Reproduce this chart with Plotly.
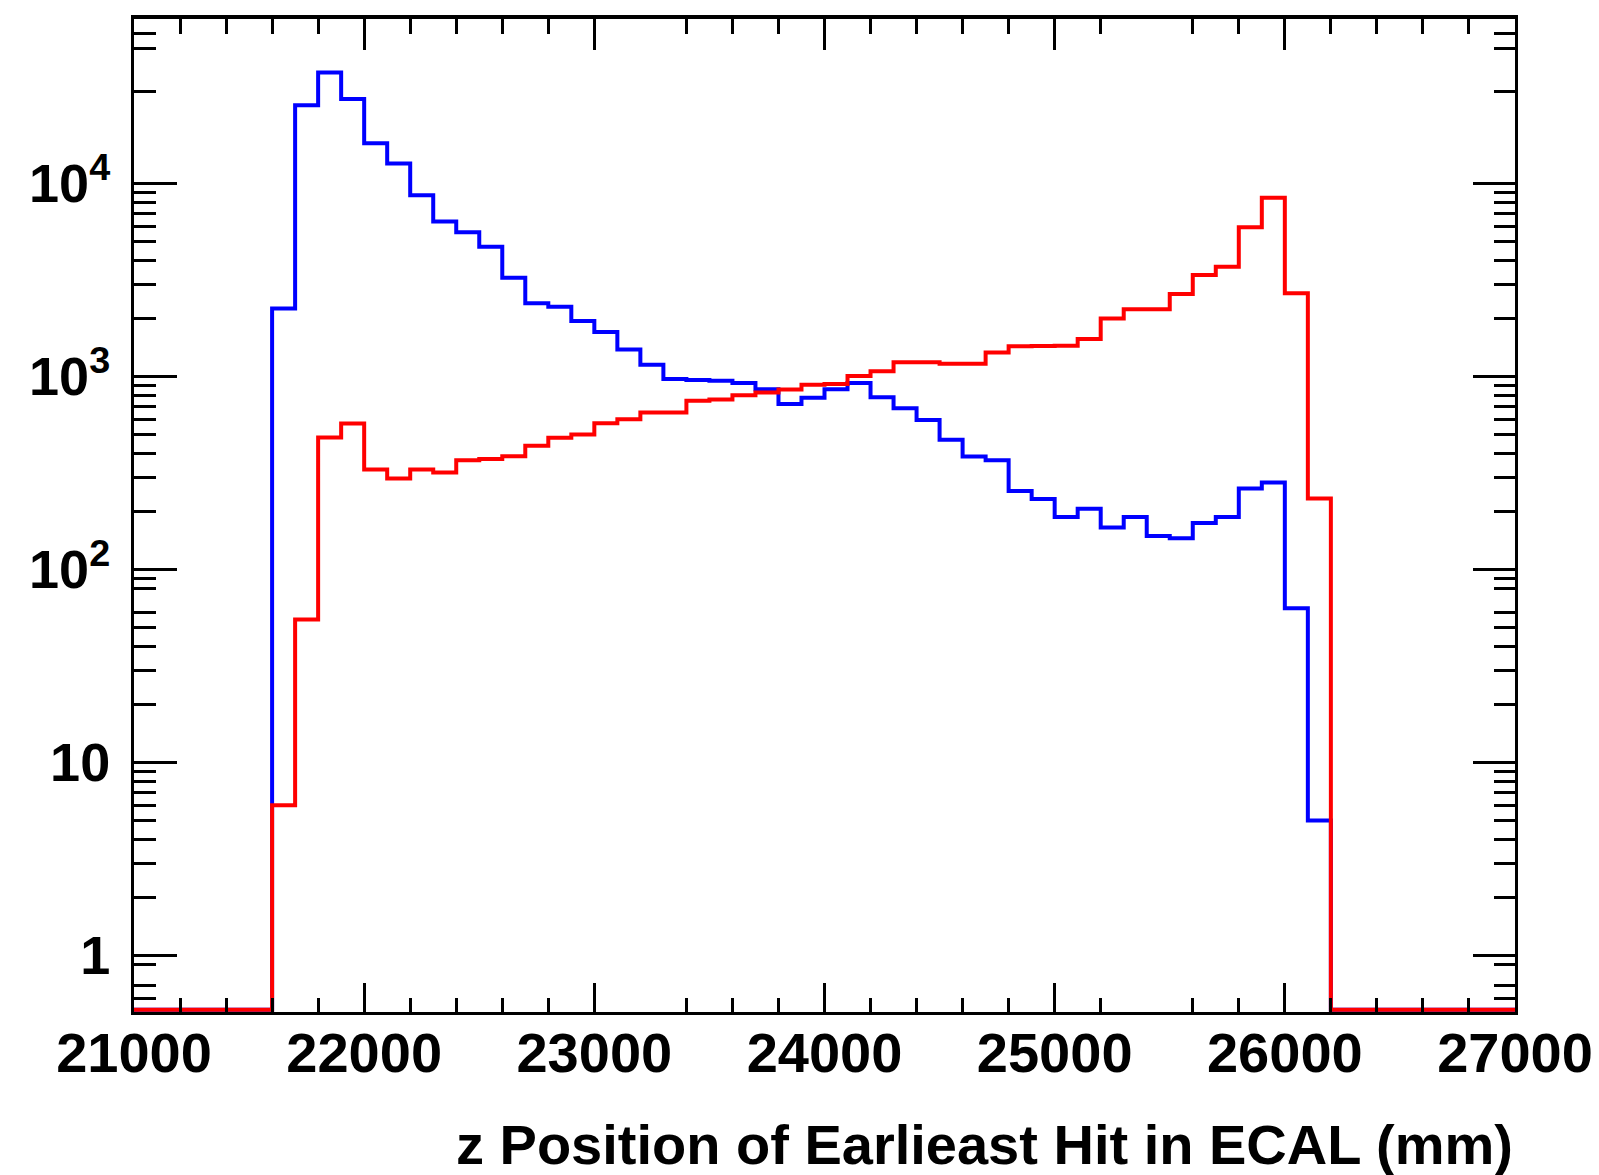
import numpy as np
import plotly.graph_objects as go

# ---------------- data ----------------
# 100 mm bins from 21000 to 27000 mm
bin_edges = np.arange(21000, 27001, 100)

# counts per bin (60 bins)
blue_counts = [0, 0, 0, 0, 0, 0,
               2250, 25500, 37700, 27400, 16200, 12700, 8700, 6350, 5600, 4700,
               3250, 2400, 2300, 1940, 1700, 1380, 1150, 970, 958, 950,
               925, 860, 720, 775, 860, 925, 780, 685, 595, 470,
               385, 368, 255, 232, 187, 206, 165, 187, 149, 145,
               174, 187, 263, 282, 63, 5,
               0, 0, 0, 0, 0, 0, 0, 0]
red_counts = [0, 0, 0, 0, 0, 0,
              6, 55, 483, 571, 330, 296, 330, 318, 368, 374,
              386, 437, 481, 501, 573, 601, 651, 651, 748, 760,
              800, 827, 857, 905, 915, 1005, 1066, 1187, 1187, 1163,
              1163, 1333, 1435, 1440, 1445, 1565, 2000, 2229, 2229, 2674,
              3356, 3707, 5930, 8440, 2697, 233,
              0, 0, 0, 0, 0, 0, 0, 0]

x_major = [21000, 22000, 23000, 24000, 25000, 26000, 27000]
x_major_text = ["21000", "22000", "23000", "24000", "25000", "26000", "27000"]
x_minor = [21200, 21400, 21600, 21800, 22200, 22400, 22600, 22800,
           23400, 23600, 23800, 24200, 24400, 24600, 24800,
           25200, 25600, 25800, 26200, 26400, 26600, 26800]
y_major = [1, 10, 100, 1000, 10000]
y_major_text = ["1", "10", "10<sup>2</sup>", "10<sup>3</sup>", "10<sup>4</sup>"]
y_minor = [0.6, 0.7, 0.9,
           2, 3, 4, 5, 6, 7, 8, 9,
           20, 30, 40, 50, 60, 80, 90,
           200, 300, 400, 500, 600, 700, 800, 900,
           2000, 3000, 4000, 5000, 6000, 7000, 8000, 9000,
           30000, 50000, 60000]

x_title = "z Position of Earlieast Hit in ECAL (mm)"

# ---------------- figure ----------------
y_log_range = [-0.294, 4.853]
floor_val = 10 ** (y_log_range[0] + 0.012)


def step_y(counts):
    c = np.asarray(counts, dtype=float)
    c = np.where(c > 0, c, floor_val)
    return np.append(c, c[-1])


FONT = "Liberation Sans"
LW = 4

fig = go.Figure()
fig.add_trace(go.Scatter(x=bin_edges, y=step_y(blue_counts), mode="lines",
                         line=dict(color="#0000ff", width=LW, shape="hv"),
                         showlegend=False, hoverinfo="skip"))
fig.add_trace(go.Scatter(x=bin_edges, y=step_y(red_counts), mode="lines",
                         line=dict(color="#ff0000", width=LW, shape="hv"),
                         showlegend=False, hoverinfo="skip"))
# invisible trace to activate mirror axes
fig.add_trace(go.Scatter(x=[24000], y=[1], xaxis="x2", yaxis="y2", mode="markers",
                         marker=dict(opacity=0), showlegend=False, hoverinfo="skip"))

x_tick_font = dict(family=FONT, size=56, color="black", weight=700)
y_tick_font = dict(family=FONT, size=54, color="black", weight=700)

fig.update_layout(
    width=1599, height=1175, autosize=False,
    margin=dict(l=134, r=84, t=19, b=163),
    paper_bgcolor="white", plot_bgcolor="white",
    xaxis=dict(type="linear", range=[21000, 27000], showgrid=False, zeroline=False,
               automargin=False,
               showline=True, linecolor="black", linewidth=3,
               ticks="inside", ticklen=29, tickwidth=2.5, tickcolor="black",
               tickmode="array", tickvals=x_major, ticktext=x_major_text,
               tickfont=x_tick_font, ticklabelstandoff=-10,
               minor=dict(tickmode="array", tickvals=x_minor, ticks="inside",
                          ticklen=14, tickwidth=2.5, tickcolor="black", showgrid=False)),
    yaxis=dict(type="log", range=y_log_range, showgrid=False, zeroline=False,
               automargin=False,
               showline=True, linecolor="black", linewidth=3,
               ticks="inside", ticklen=43, tickwidth=2.5, tickcolor="black",
               tickmode="array", tickvals=y_major, ticktext=y_major_text,
               tickfont=y_tick_font, ticklabelstandoff=10,
               minor=dict(tickmode="array", tickvals=y_minor, ticks="inside",
                          ticklen=22, tickwidth=2.5, tickcolor="black", showgrid=False)),
    xaxis2=dict(type="linear", range=[21000, 27000], overlaying="x", side="top",
                anchor="y", showgrid=False, zeroline=False, automargin=False,
                showline=True, linecolor="black", linewidth=4,
                ticks="inside", ticklen=31, tickwidth=2.5, tickcolor="black",
                tickmode="array", tickvals=x_major, showticklabels=False,
                minor=dict(tickmode="array", tickvals=x_minor, ticks="inside",
                           ticklen=15, tickwidth=2.5, tickcolor="black", showgrid=False)),
    yaxis2=dict(type="log", range=y_log_range, overlaying="y", side="right",
                anchor="x", showgrid=False, zeroline=False, automargin=False,
                showline=True, linecolor="black", linewidth=3,
                ticks="inside", ticklen=42, tickwidth=2.5, tickcolor="black",
                tickmode="array", tickvals=y_major, showticklabels=False,
                minor=dict(tickmode="array", tickvals=y_minor, ticks="inside",
                           ticklen=21, tickwidth=2.5, tickcolor="black", showgrid=False)),
    annotations=[dict(text=x_title, xref="paper", yref="paper", x=1.0, y=-0.1335,
                      xanchor="right", yanchor="middle", showarrow=False,
                      font=dict(family=FONT, size=56, color="black", weight=700))],
)

fig.write_html("out.html", config={"displayModeBar": False})
